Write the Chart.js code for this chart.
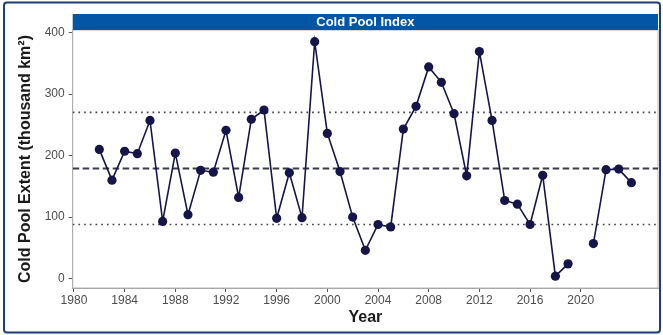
<!DOCTYPE html>
<html>
<head>
<meta charset="utf-8">
<script src="https://cdn.jsdelivr.net/npm/chart.js@4/dist/chart.umd.min.js"></script>
<style>
  html, body { margin: 0; padding: 0; background: #ffffff; }
  #wrap { position: relative; width: 663px; height: 335px; }
  canvas { display: block; }
</style>
</head>
<body>
<div id="wrap"><canvas id="cpi" width="663" height="335"></canvas></div>
<script>
// Survey years and cold pool extent (thousand km²); no survey in 2020
const years = [
  1982, 1983, 1984, 1985, 1986, 1987, 1988, 1989, 1990, 1991,
  1992, 1993, 1994, 1995, 1996, 1997, 1998, 1999, 2000, 2001,
  2002, 2003, 2004, 2005, 2006, 2007, 2008, 2009, 2010, 2011,
  2012, 2013, 2014, 2015, 2016, 2017, 2018, 2019, 2020, 2021,
  2022, 2023, 2024
];
const extent = [
  210, 160, 207, 203, 257, 93, 204, 104, 176, 173,
  241, 132, 259, 274, 98, 172, 99, 385, 236, 174,
  100, 46, 88, 84, 243, 280, 344, 319, 268, 167,
  369, 257, 127, 121, 88, 168, 4, 24, null, 57,
  177, 178, 156
];

// Long-term mean and the ±1 SD band
const meanExtent = 179;
const sdLower = 88;
const sdUpper = 270;

// Axis ticks
const xTickYears = [1980, 1984, 1988, 1992, 1996, 2000, 2004, 2008, 2012, 2016, 2020];
const yTickValues = [0, 100, 200, 300, 400];

// Axis limits (data range plus a small margin)
const xLimits = [1979.9, 2026.1];
const yLimits = [-15.2, 404];

const seriesPoints = years.map((yr, i) => ({ x: yr, y: extent[i] }));
const hline = v => [{ x: xLimits[0], y: v }, { x: xLimits[1], y: v }];

const FONT = "'Liberation Sans', Arial, Helvetica, sans-serif";
const NAVY = '#15154a';

// Panel border, strip title and outer frame
const decorations = {
  id: 'decorations',
  beforeDatasetsDraw(chart) {
    const { ctx, chartArea: a } = chart;
    ctx.save();
    ctx.strokeStyle = '#b5b5b5';
    ctx.lineWidth = 1;
    ctx.strokeRect(a.left, a.top, a.right - a.left, a.bottom - a.top);
    ctx.restore();
  },
  afterDraw(chart) {
    const { ctx, chartArea: a } = chart;
    ctx.save();
    // strip
    ctx.fillStyle = '#0356a6';
    ctx.fillRect(a.left, 14, a.right - a.left, a.top - 14);
    ctx.fillStyle = '#ffffff';
    ctx.font = 'bold 13px ' + FONT;
    ctx.textAlign = 'center';
    ctx.textBaseline = 'middle';
    ctx.fillText('Cold Pool Index', (a.left + a.right) / 2, (14 + a.top) / 2 + 0.5);
    // outer frame
    ctx.strokeStyle = '#1d3f72';
    ctx.lineWidth = 2;
    ctx.beginPath();
    if (ctx.roundRect) ctx.roundRect(4, 2.5, 656, 330, 3); else ctx.rect(4, 2.5, 656, 330);
    ctx.stroke();
    ctx.restore();
  }
};

new Chart(document.getElementById('cpi'), {
  type: 'line',
  data: {
    datasets: [
      {
        label: 'Cold Pool Extent',
        data: seriesPoints,
        borderColor: NAVY,
        backgroundColor: NAVY,
        borderWidth: 1.6,
        pointRadius: 4.6,
        pointBorderWidth: 0,
        pointBackgroundColor: NAVY,
        spanGaps: false,
        tension: 0
      },
      {
        label: 'Mean',
        data: hline(meanExtent),
        borderColor: '#3a3a48',
        borderWidth: 2,
        borderDash: [6.5, 3.5],
        pointRadius: 0
      },
      {
        label: '+1 SD',
        data: hline(sdUpper),
        borderColor: '#444450',
        borderWidth: 1.7,
        borderDash: [1.7, 4],
        pointRadius: 0
      },
      {
        label: '-1 SD',
        data: hline(sdLower),
        borderColor: '#444450',
        borderWidth: 1.7,
        borderDash: [1.7, 4],
        pointRadius: 0
      }
    ]
  },
  options: {
    responsive: false,
    animation: false,
    events: [],
    layout: { padding: { left: 0, top: 30, right: 5, bottom: 0 } },
    plugins: {
      legend: { display: false },
      tooltip: { enabled: false },
      title: { display: false }
    },
    scales: {
      x: {
        type: 'linear',
        min: xLimits[0],
        max: xLimits[1],
        afterBuildTicks: axis => { axis.ticks = xTickYears.map(v => ({ value: v })); },
        afterFit: axis => { axis.height = 47; },
        grid: { drawOnChartArea: false, drawTicks: true, tickLength: 4, color: '#555555', lineWidth: 1 },
        border: { display: true, color: '#9a9a9a', width: 1 },
        ticks: {
          padding: 1,
          color: '#4d4d4d',
          font: { family: FONT, size: 12 },
          maxRotation: 0,
          autoSkip: false,
          callback: v => String(v)
        },
        title: {
          display: true,
          text: 'Year',
          color: '#1a1a1a',
          font: { family: FONT, size: 16, weight: 'bold' },
          padding: { top: 0, bottom: 8 }
        }
      },
      y: {
        type: 'linear',
        min: yLimits[0],
        max: yLimits[1],
        afterBuildTicks: axis => { axis.ticks = yTickValues.map(v => ({ value: v })); },
        afterFit: axis => { axis.width = 72.7; },
        grid: { drawOnChartArea: false, drawTicks: true, tickLength: 4, color: '#555555', lineWidth: 1 },
        border: { display: true, color: '#9a9a9a', width: 1 },
        ticks: {
          padding: 4,
          color: '#4d4d4d',
          font: { family: FONT, size: 12 },
          callback: v => String(v)
        },
        title: {
          display: true,
          text: 'Cold Pool Extent (thousand km²)',
          color: '#1a1a1a',
          font: { family: FONT, size: 16, weight: 'bold' },
          padding: { top: 16, bottom: 0 }
        }
      }
    }
  },
  plugins: [decorations]
});
</script>
</body>
</html>
